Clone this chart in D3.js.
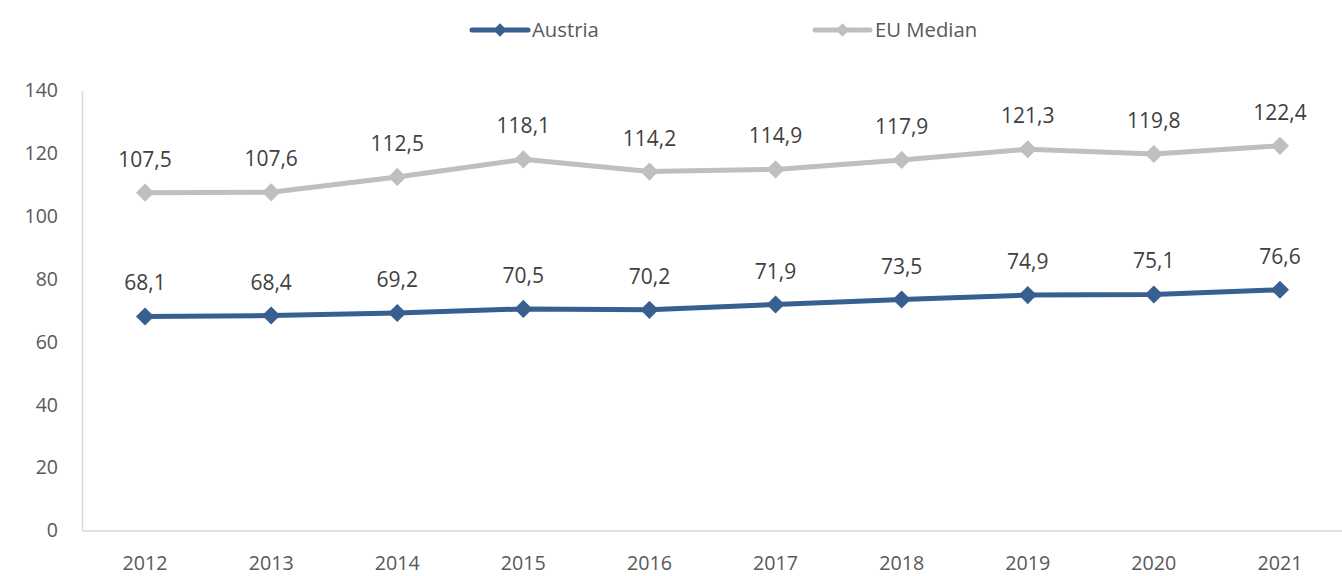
<!DOCTYPE html>
<html><head><meta charset="utf-8">
<script src="https://cdn.jsdelivr.net/npm/d3@7"></script>
<style>body{margin:0;background:#fff}svg{display:block}text{font-family:"Open Sans","Liberation Sans",sans-serif}</style>
</head><body><svg id="c" width="1342" height="576"></svg>
<script>
const years = ["2012","2013","2014","2015","2016","2017","2018","2019","2020","2021"];
const austria = [68.1,68.4,69.2,70.5,70.2,71.9,73.5,74.9,75.1,76.6];
const euMedian = [107.5,107.6,112.5,118.1,114.2,114.9,117.9,121.3,119.8,122.4];
const yTicks = [0,20,40,60,80,100,120,140];
const seriesNames = ["Austria","EU Median"];

const svg = d3.select("#c");
const x = d3.scaleBand().domain(years).range([82,1343]);
const y = d3.scaleLinear().domain([0,140]).range([530.5,90.5]);
const fmt = v => d3.format(".1f")(v).replace(".", ",");

// axes
const yAxis = svg.append("g").attr("transform","translate(82,0)")
  .call(d3.axisLeft(y).tickValues(yTicks).tickSize(0).tickPadding(24));
yAxis.select(".domain").attr("stroke","#D9D9D9").attr("stroke-width",1.5);
yAxis.selectAll("text").attr("fill","#595959").style("font-size","19.5px");

const xAxis = svg.append("g").attr("transform","translate(0,530.5)")
  .call(d3.axisBottom(x).tickSize(0).tickPadding(25.5));
xAxis.select(".domain").attr("stroke","#D9D9D9").attr("stroke-width",1.5);
xAxis.selectAll("text").attr("fill","#595959").style("font-size","19.7px");

const colors = ["#375F8F","#BFBFBF"];
const data = [austria, euMedian];
const line = d3.line().x((d,i)=>x(years[i])+x.bandwidth()/2).y(d=>y(d));

// draw EU first then Austria
[1,0].forEach(s=>{
  const g = svg.append("g");
  g.append("path").datum(data[s]).attr("d",line).attr("fill","none")
    .attr("stroke",colors[s]).attr("stroke-width",5).attr("stroke-linejoin","round").attr("stroke-linecap","round");
  g.selectAll("path.m").data(data[s]).join("path").attr("class","m")
    .attr("d",d3.symbol().type(d3.symbolSquare).size(165))
    .attr("transform",(d,i)=>`translate(${x(years[i])+x.bandwidth()/2},${y(d)}) rotate(45)`)
    .attr("fill",colors[s]);
  g.selectAll("text").data(data[s]).join("text")
    .attr("x",(d,i)=>x(years[i])+x.bandwidth()/2).attr("y",d=>y(d)-26)
    .attr("text-anchor","middle").attr("fill","#404040").style("font-size","21px")
    .text(fmt);
});

// legend
const leg = [{x1:472,x2:528,tx:532},{x1:815,x2:870,tx:875}];
leg.forEach((l,i)=>{
  const g = svg.append("g");
  g.append("line").attr("x1",l.x1).attr("x2",l.x2).attr("y1",30).attr("y2",30)
    .attr("stroke",colors[i]).attr("stroke-width",5).attr("stroke-linecap","round");
  g.append("path").attr("d",d3.symbol().type(d3.symbolSquare).size(88))
    .attr("transform",`translate(${(l.x1+l.x2)/2},30) rotate(45)`).attr("fill",colors[i]);
  g.append("text").attr("x",l.tx).attr("y",30).attr("dy","0.35em").attr("fill","#595959")
    .style("font-size","20.3px").text(seriesNames[i]);
});
</script></body></html>
